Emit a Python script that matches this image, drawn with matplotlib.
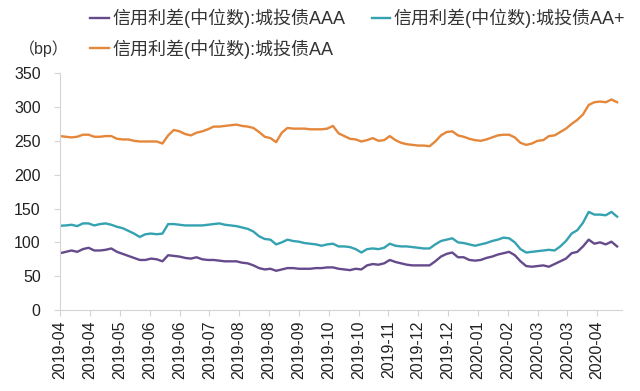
import pandas as pd
import matplotlib
matplotlib.use("Agg")
import matplotlib.pyplot as plt

plt.rcParams['font.family'] = ['Liberation Sans', 'Noto Sans CJK SC', 'DejaVu Sans']

# sampled every 4 days from 2019-04-01
dates = pd.date_range('2019-04-01', periods=99, freq='4D')

aaa = [84, 86, 88, 86, 90, 92, 88, 88, 89, 91,
       86, 83, 80, 77, 74, 74, 76, 75, 72, 81,
       80, 79, 77, 76, 78, 75, 74, 74, 73, 72,
       72, 72, 70, 69, 66, 62, 60, 61, 58, 60,
       62, 62, 61, 61, 61, 62, 62, 63, 63, 61,
       60, 59, 61, 60, 66, 68, 67, 69, 74, 71,
       69, 67, 66, 66, 66, 66, 72, 79, 83, 85,
       78, 78, 74, 73, 74, 77, 79, 82, 84, 86,
       81, 72, 65, 64, 65, 66, 64, 68, 72, 76,
       84, 86, 94, 104, 98, 100, 97, 101, 94]

aa_plus = [124.5, 125, 126, 124, 128, 128, 125, 127, 128, 126,
           123, 121, 117, 113, 108, 112, 113, 112, 113, 127,
           127, 126, 125, 125, 125, 125, 126, 127, 128, 126,
           125, 124, 122, 120, 116, 109, 105, 104, 97, 100,
           104, 102, 101, 99, 98, 97, 95, 97, 98, 94,
           94, 93, 90, 85, 90, 91, 90, 92, 98, 95,
           94, 94, 93, 92, 91, 91, 97, 102, 104, 106,
           100, 99, 97, 95, 97, 99, 102, 104, 107, 106,
           100, 90, 85, 86, 87, 88, 89, 88, 94, 102,
           113, 118, 129, 145, 141, 141, 140, 145, 138]

aa = [257, 256, 255, 256, 259, 259, 256, 256, 257, 257,
      253, 252, 252, 250, 249, 249, 249, 249, 246, 258,
      266, 264, 260, 258, 262, 264, 267, 271, 271, 272,
      273, 274, 272, 271, 269, 263, 256, 254, 248, 262,
      269, 268, 268, 268, 267, 267, 267, 268, 272, 261,
      257, 253, 252, 249, 251, 254, 250, 251, 257, 251,
      247, 245, 244, 243, 243, 242, 249, 258, 263, 264,
      258, 256, 253, 251, 250, 252, 255, 258, 259, 259,
      255, 247, 244, 246, 250, 251, 257, 258, 263, 268,
      275, 281, 289, 303, 307, 308, 307, 311, 307]

names = ['信用利差(中位数):城投债AAA', '信用利差(中位数):城投债AA+', '信用利差(中位数):城投债AA']
colors = ['#654a8c', '#35a2b2', '#e5873a']

fig = plt.figure(figsize=(6.4, 3.91), dpi=100)
ax = fig.add_axes([0.094, 0.207, 0.878, 0.606])

l1, = ax.plot(dates, aaa, color=colors[0], lw=1.7, label=names[0])
l2, = ax.plot(dates, aa_plus, color=colors[1], lw=1.7, label=names[1])
l3, = ax.plot(dates, aa, color=colors[2], lw=1.7, label=names[2])

ax.set_ylim(0, 350)
ax.set_yticks(range(0, 351, 50))
ax.set_xlim(pd.Timestamp('2019-04-01'), pd.Timestamp('2019-04-01') + pd.Timedelta(days=395.5))

ticks = pd.date_range('2019-04-01', periods=19, freq='21D')
ax.set_xticks(ticks)
ax.set_xticklabels([t.strftime('%Y-%m') for t in ticks], rotation=90)

for side in ['top', 'right']:
    ax.spines[side].set_visible(False)
for side in ['left', 'bottom']:
    ax.spines[side].set_color('#d4d4d4')
ax.tick_params(axis='both', colors='#d4d4d4', labelcolor='#222222', labelsize=11.5, length=4)
ax.tick_params(axis='y', pad=10)

fig.legend(handles=[l1, l3, l2], labels=[names[0], names[2], names[1]], ncol=2,
           loc='upper left', bbox_to_anchor=(0.116, 1.02), frameon=False,
           fontsize=13, handlelength=1.0, handletextpad=0.2, columnspacing=1.5,
           labelspacing=0.62, labelcolor='#333333')
fig.text(0.03, 0.875, '（bp）', fontsize=11.5, color='#333333', va='center')

fig.savefig('out.png', dpi=100)
